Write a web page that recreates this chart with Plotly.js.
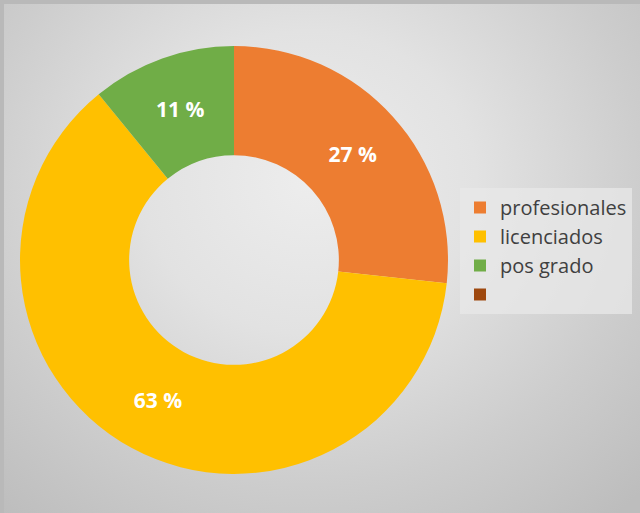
<!DOCTYPE html>
<html>
<head>
<meta charset="utf-8">
<script src="https://cdn.plot.ly/plotly-3.0.1.min.js"></script>
<style>
html,body{margin:0;padding:0;width:640px;height:513px;overflow:hidden;background:#b9b9b9;}
#wrap{position:absolute;left:4px;top:4px;width:636px;height:509px;
background:radial-gradient(ellipse 75% 85% at 48% 35%, #ededed 0%, #e2e2e2 35%, #cdcdcd 70%, #bdbdbd 100%);}
#chart{position:absolute;left:0;top:0;width:636px;height:509px;}
</style>
</head>
<body>
<div id="wrap"><div id="chart"></div></div>
<script>
const categories = ["profesionales", "licenciados", "pos grado", " "];
const values = [27, 63, 11, 0];
const valueLabels = ["27 %", "63 %", "11 %", ""];
const colors = ["#ed7d31", "#ffc000", "#70ad47", "#9e480e"];

const trace = {
  type: "pie",
  labels: categories,
  values: values,
  text: valueLabels,
  textinfo: "text",
  textposition: "inside",
  insidetextorientation: "horizontal",
  hole: 0.49,
  sort: false,
  direction: "clockwise",
  rotation: 0,
  marker: {colors: colors, line: {width: 0}},
  textfont: {family: "Open Sans, Liberation Sans, sans-serif", size: 21, color: "#ffffff", weight: "bold"},
  domain: {x: [16/636, 444/636], y: [1 - 470/509, 1 - 42/509]},
  showlegend: true,
  hoverinfo: "label+percent"
};

const layout = {
  width: 636,
  height: 509,
  margin: {l: 0, r: 0, t: 0, b: 0},
  paper_bgcolor: "rgba(0,0,0,0)",
  plot_bgcolor: "rgba(0,0,0,0)",
  showlegend: true,
  legend: {
    x: 456/636, y: 1 - 184/509, xanchor: "left", yanchor: "top",
    bgcolor: "rgba(232,232,232,0.75)",
    borderwidth: 0,
    font: {family: "Open Sans, Liberation Sans, sans-serif", size: 20, color: "#404040"},
    itemwidth: 30,
    tracegroupgap: 0,
    traceorder: "normal"
  }
};

Plotly.newPlot("chart", [trace], layout, {displayModeBar: false, staticPlot: true});
</script>
</body>
</html>
